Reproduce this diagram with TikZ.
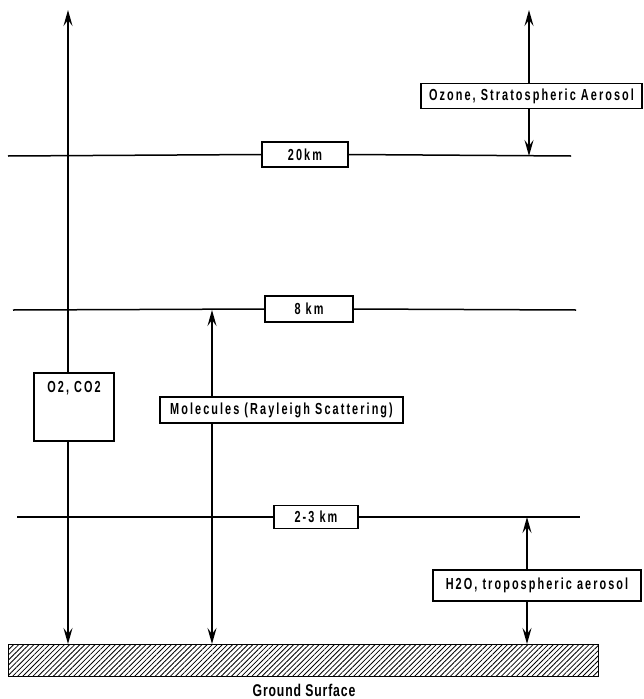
\documentclass[tikz,border=0pt]{standalone}
\usepackage{fontspec}
\setmainfont{Liberation Sans}
\newfontfamily\lblfont{Liberation Sans}[FakeStretch=0.68,LetterSpace=13]
\newfontfamily\gsfont{Liberation Sans}[FakeStretch=0.72,LetterSpace=5]
\usetikzlibrary{arrows.meta,patterns.meta}
\begin{document}
\begin{tikzpicture}[x=1pt,y=-1pt,line width=1.5pt,
  lbl/.style={draw,fill=white,line width=1.8pt,inner sep=0pt,font=\lblfont\bfseries\fontsize{16}{18}\selectfont},
  arr/.style={line width=1.8pt,-{Stealth[length=16pt,width=9pt,inset=6pt]}},
  gnd/.style={draw,line width=1.8pt,inner sep=0pt,anchor=north west,
    pattern={Lines[angle=45,distance=3.6pt,line width=0.8pt]}}]
\useasboundingbox (0,0) rectangle (644,699);
% ground
\node[gnd,minimum width=590,minimum height=32] (ground) at (8,644) {};
\node[font=\gsfont\bfseries\fontsize{17}{19}\selectfont,inner sep=0pt] (gs) at (304,690) {Ground Surface};
% altitude lines
\coordinate (a20w) at (8,156);  \coordinate (a20e) at (571,156);
\coordinate (a8w) at (13,310);  \coordinate (a8e) at (576,310);
\coordinate (a3w) at (17,517);  \coordinate (a3e) at (580,517);
\node[lbl,minimum width=86,minimum height=25] (k20) at (305,154.5) {20km};
\node[lbl,minimum width=88,minimum height=26] (k8) at (309,309) {8 km};
\node[lbl,minimum width=84,minimum height=23] (k3) at (316,517) {2-3 km};
\draw (a20w) -- (k20.west); \draw (k20.east) -- (a20e);
\draw (a8w) -- (k8.west);   \draw (k8.east) -- (a8e);
\draw (a3w) -- (k3.west);   \draw (k3.east) -- (a3e);
% O2, CO2
\coordinate (o2top) at (68,10);
\node[lbl,minimum width=80,minimum height=68,
  label={[anchor=north,inner sep=0pt,yshift=-8pt,font=\lblfont\bfseries\fontsize{16}{18}\selectfont]north:{O2, CO2}}] (o2) at (74,407) {};
\draw[arr] (o2.north -| o2top) -- (o2top);
\draw[arr] (o2.south -| o2top) -- (ground.north -| o2top);
% Molecules
\coordinate (mtop) at (212,310);
\node[lbl,minimum width=243,minimum height=26] (mol) at (281.5,410) {Molecules (Rayleigh Scattering)};
\draw[arr] (mol.north -| mtop) -- (mtop);
\draw[arr] (mol.south -| mtop) -- (ground.north -| mtop);
% Ozone
\coordinate (oztop) at (529,10);
\coordinate (ozbot) at (529,156);
\node[lbl,minimum width=221,minimum height=25] (oz) at (531.5,96) {Ozone, Stratospheric Aerosol};
\draw[arr] (oz.north -| oztop) -- (oztop);
\draw[arr] (oz.south -| oztop) -- (ozbot);
% H2O
\coordinate (htop) at (527,517);
\node[lbl,minimum width=208,minimum height=31] (h2o) at (537,585.5) {H2O, tropospheric aerosol};
\draw[arr] (h2o.north -| htop) -- (htop);
\draw[arr] (h2o.south -| htop) -- (ground.north -| htop);
\end{tikzpicture}
\end{document}
